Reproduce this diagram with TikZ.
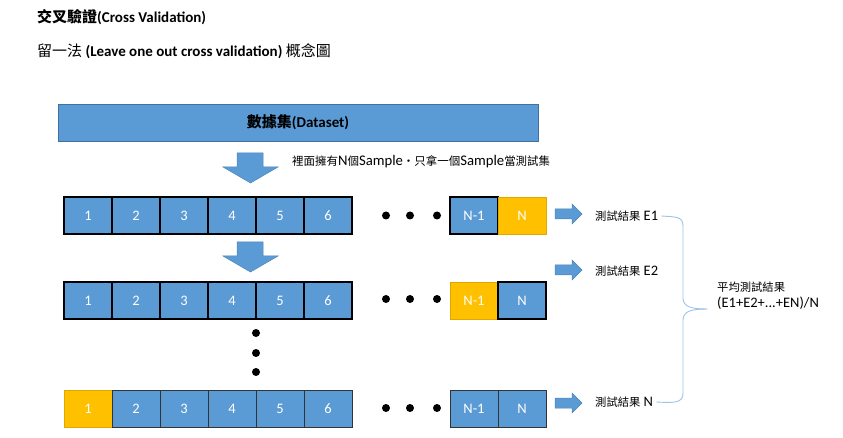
\documentclass[tikz,border=0pt]{standalone}
\usepackage{fontspec}
\setmainfont{Carlito}
\newfontfamily\cjk{Noto Sans CJK TC}
\newfontfamily\cjks{Noto Sans CJK TC}[Scale=0.78]
\definecolor{cblue}{RGB}{91,155,213}
\definecolor{cbluedark}{RGB}{65,113,156}
\definecolor{cyellow}{RGB}{255,192,0}
\definecolor{cyellowdark}{RGB}{222,168,0}
\definecolor{cbrace}{RGB}{157,195,230}
\tikzset{
  cell/.style={draw=black, line width=1.4pt, fill=cblue, minimum width=48pt, minimum height=37pt,
    inner sep=0pt, text=white, font=\fontsize{14.5}{16}\selectfont},
  ycell/.style={cell, draw=cyellowdark, line width=0.6pt, fill=cyellow},
  thincell/.style={cell, draw=black!80, line width=0.9pt},
  dot/.style={circle, fill=black, inner sep=0pt, minimum size=8pt},
  lbl/.style={anchor=west, inner sep=0pt, font=\fontsize{14.5}{16}\selectfont},
  title/.style={anchor=west, inner sep=0pt, font=\fontsize{15}{17}\selectfont\bfseries},
  blockarrow/.style={fill=cblue, draw=cblue!85!black, line width=0.5pt},
  brace/.style={draw=cbrace, line width=0.9pt}
}
\begin{document}
\begin{tikzpicture}[x=1pt,y=-1pt]
\path[use as bounding box] (0,0) rectangle (843,438);
% titles
\node[title] (t1) at (37,17) {{\cjk 交叉驗證}(Cross Validation)};
\node[title] (t2) at (37,51) {{\cjk\mdseries 留一法} (Leave one out cross validation) {\cjk\mdseries 概念圖}};
% dataset bar
\node[draw=cbluedark, line width=0.6pt, fill=cblue, minimum width=480pt, minimum height=37pt, inner sep=0pt,
  font=\fontsize{15}{17}\selectfont\bfseries] (ds) at (298,122.5) {{\cjk 數據集}(Dataset)};
% down arrows
\draw[blockarrow] (237,153) -- (263,153) -- (263,167) -- (278,167) -- (250.5,183) -- (223,167) -- (237,167) -- cycle;
\draw[blockarrow] (237,242) -- (263,242) -- (263,256) -- (278,256) -- (250.5,272) -- (223,256) -- (237,256) -- cycle;
\node[lbl, font=\fontsize{14.7}{16}\selectfont] (sub) at (292,162) {{\cjks 裡面擁有}N{\cjks 個}Sample{\cjks ・只拿一個}Sample{\cjks 當測試集}};
% row 1
\foreach \i in {1,...,6} {
  \node[cell] (a\i) at ({40+48*\i},215.5) {\i};
}
\node[dot] (ad1) at (386,215.5) {};
\node[dot] (ad2) at (410,215.5) {};
\node[dot] (ad3) at (437,215.5) {};
\node[cell] (an1) at (474,215.5) {N-1};
\node[ycell] (an) at (522,215.5) {N};
% row 2
\foreach \i in {1,...,6} {
  \node[cell] (b\i) at ({40+48*\i},300.5) {\i};
}
\node[dot] (bd1) at (386,299) {};
\node[dot] (bd2) at (410,299) {};
\node[dot] (bd3) at (437,299) {};
\node[ycell] (bn1) at (474,300.5) {N-1};
\node[cell] (bn) at (522,300.5) {N};
% vertical dots
\node[dot] (v1) at (256,333) {};
\node[dot] (v2) at (256,353) {};
\node[dot] (v3) at (256,372) {};
% row 3
\node[ycell] (c1) at (88,409) {1};
\foreach \i in {2,...,6} {
  \node[thincell] (c\i) at ({40+48*\i},409) {\i};
}
\node[dot] (cd1) at (386,408) {};
\node[dot] (cd2) at (410,408) {};
\node[dot] (cd3) at (437,408) {};
\node[thincell] (cn1) at (474,409) {N-1};
\node[thincell] (cn) at (522,409) {N};
% right arrows
\foreach \y in {214,270,403} {
  \draw[blockarrow] (555,\y-5) -- (572,\y-5) -- (572,\y-10) -- (582,\y) -- (572,\y+10) -- (572,\y+5) -- (555,\y+5) -- cycle;
}
% labels
\node[lbl] (e1) at (595,216) {{\cjks 測試結果} E1};
\node[lbl] (e2) at (595,271) {{\cjks 測試結果} E2};
\node[lbl] (en) at (595,402) {{\cjks 測試結果} N};
% brace
\coordinate (tip) at (707,309);
\draw[brace] ([xshift=3pt]e1.east) .. controls (675,217) and (683,216) .. (683,226) -- (683,298)
  .. controls (683,307) and (692,309) .. (tip);
\draw[brace] (tip) .. controls (692,309) and (683,311) .. (683,320) -- (683,393)
  .. controls (683,403) and (675,403) .. ([xshift=3pt]en.east);
% average
\node[lbl] (avg1) at (717,287) {{\cjks 平均測試結果}};
\node[lbl] (avg2) at (717,303) {(E1+E2+...+EN)/N};
\end{tikzpicture}
\end{document}
